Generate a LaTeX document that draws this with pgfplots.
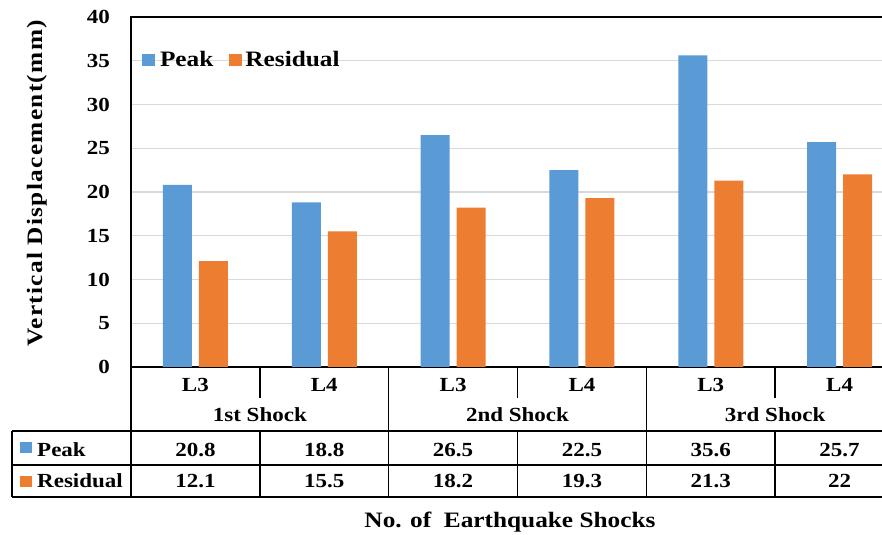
\documentclass[border=0pt]{standalone}
\usepackage{pgfplots}
\pgfplotsset{compat=1.18}
\usepackage{pgfplotstable}
\usepackage{fontspec}
\setmainfont{Liberation Serif}[BoldFont={Liberation Serif Bold}, FakeStretch=1.15]

\definecolor{peakblue}{HTML}{5B9BD5}
\definecolor{resorange}{HTML}{ED7D31}
\definecolor{gridgray}{HTML}{D9D9D9}

% vertical displacement (mm) per level and shock
\pgfplotstableread{
x peak residual
0 20.8 12.1
1 18.8 15.5
2 26.5 18.2
3 22.5 19.3
4 35.6 21.3
5 25.7 22
}\shockdata

\newcommand{\fs}[1]{\fontsize{#1bp}{#1bp}\selectfont\bfseries}

\begin{document}
\begin{tikzpicture}[x=1bp,y=1bp,font=\bfseries]
\begin{axis}[
  at={(131bp,168bp)}, anchor=south west,
  scale only axis, width=773bp, height=350bp,
  ybar=7bp, bar width=29bp,
  xmin=-0.5, xmax=5.5, ymin=0, ymax=40,
  ytick={0,5,...,40},
  xtick={0,...,5}, xticklabels={L3,L4,L3,L4,L3,L4},
  major tick length=0pt,
  axis line style={black, line width=1.6bp},
  ymajorgrids, grid style={gridgray, line width=1.2bp},
  /pgf/number format/assume math mode=true,
  tick label style={font=\fs{20}},
  yticklabel style={anchor=east, inner sep=0pt, xshift=-21bp},
  xticklabel style={anchor=base, inner sep=0pt, yshift=-25bp},
  legend columns=2,
  legend style={at={(0.014,0.877)}, anchor=west, draw=none, fill=none,
    font=\fs{22}, inner sep=0pt,
    /tikz/every even column/.append style={column sep=14bp}},
  legend image code/.code={\fill[#1] (0bp,-6bp) rectangle (13bp,6bp);},
  clip=false,
]
\addplot[fill=peakblue, draw=none] table[x=x, y=peak] {\shockdata};
\addplot[fill=resorange, draw=none] table[x=x, y=residual] {\shockdata};
\legend{\hspace{3bp}Peak, \hspace{1bp}Residual}
\end{axis}

% data table below the plot
\begin{scope}[line width=1.6bp]
  \draw (131,168) -- (131,38);
  \draw (12,104) -- (904,104);
  \draw (12,70) -- (904,70);
  \draw (12,38) -- (904,38);
  \draw (12,104) -- (12,38);
  \foreach \k in {1,3,5} {
    \draw ({131+128.83*\k},168) -- ++(0,-31);
    \draw ({131+128.83*\k},104) -- ({131+128.83*\k},38);
  }
  \foreach \k in {2,4,6} \draw ({131+128.83*\k},168) -- ({131+128.83*\k},38);
\end{scope}

\foreach \g/\name in {1/1st Shock,3/2nd Shock,5/3rd Shock}
  \node[anchor=base, inner sep=0pt, font=\fs{20}] at ({131+128.83*\g},113) {\name};

\fill[peakblue] (20,82) rectangle (32,93);
\fill[resorange] (20,48) rectangle (32,59);
\node[anchor=base west, inner sep=0pt, font=\fs{20}] at (37,78) {Peak};
\node[anchor=base west, inner sep=0pt, font=\fs{20}] at (37,47) {Residual};

\pgfplotstablegetrowsof{\shockdata}
\pgfmathtruncatemacro{\lastrow}{\pgfplotsretval-1}
\foreach \r in {0,...,\lastrow} {
  \pgfplotstablegetelem{\r}{peak}\of\shockdata
  \node[anchor=base, inner sep=0pt, font=\fs{20}] at ({131+128.83*(\r+0.5)},78) {\pgfplotsretval};
  \pgfplotstablegetelem{\r}{residual}\of\shockdata
  \node[anchor=base, inner sep=0pt, font=\fs{20}] at ({131+128.83*(\r+0.5)},47) {\pgfplotsretval};
}

\node[anchor=base, inner sep=0pt, font=\fs{22}] at (510,7) {No. of\ \ Earthquake Shocks};
\node[anchor=base, inner sep=0pt, rotate=90, font=\fs{22}\addfontfeature{LetterSpace=6}] at (42,351.5) {Vertical Displacement(mm)};

\pgfresetboundingbox
\path (0,0) rectangle (882,535);
\end{tikzpicture}
\end{document}
